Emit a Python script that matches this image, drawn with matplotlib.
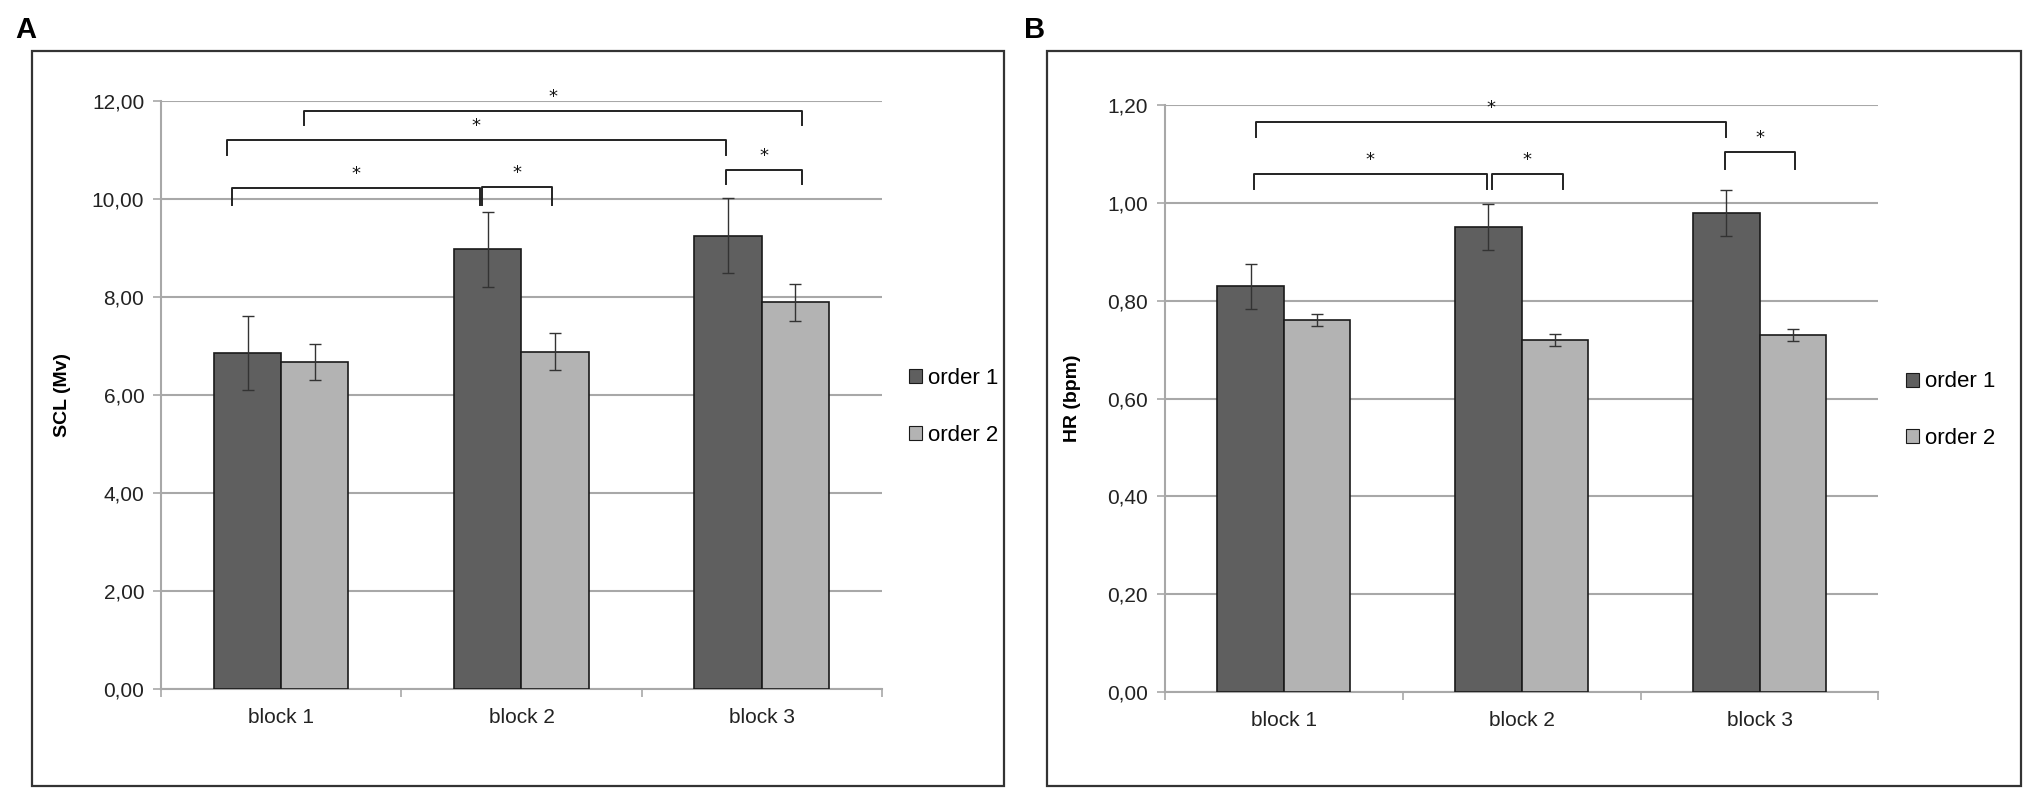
import numpy as np
import matplotlib
matplotlib.use("Agg")
from matplotlib import pyplot as plt
from matplotlib.patches import Rectangle, Patch
from matplotlib.ticker import FuncFormatter

plt.rcParams['font.family'] = ['Liberation Sans Narrow', 'Liberation Sans', 'DejaVu Sans']

blocks = ['block 1', 'block 2', 'block 3']
series = ['order 1', 'order 2']

# panel A - skin conductance level
scl_order1 = [6.86, 8.98, 9.26]
scl_order1_err = [0.75, 0.76, 0.76]
scl_order2 = [6.68, 6.89, 7.90]
scl_order2_err = [0.37, 0.38, 0.38]

# panel B - heart rate
hr_order1 = [0.83, 0.95, 0.98]
hr_order1_err = [0.046, 0.047, 0.047]
hr_order2 = [0.76, 0.72, 0.73]
hr_order2_err = [0.012, 0.012, 0.012]

# significance brackets: (x start, x end, bar height, leg bottom)
scl_brackets = [
    (0.093, 2.166, 11.81, 11.52),
    (-0.225, 1.850, 11.21, 10.91),
    (-0.206, 0.826, 10.24, 9.88),
    (0.837, 1.125, 10.26, 9.88),
    (1.850, 2.166, 10.60, 10.32),
]
hr_brackets = [
    (-0.118, 1.859, 1.165, 1.135),
    (-0.126, 0.853, 1.060, 1.029),
    (0.874, 1.172, 1.060, 1.029),
    (1.853, 2.148, 1.104, 1.070),
]

dark = '#5f5f5f'
light = '#b3b3b3'
grid_col = '#a8a8a8'


def draw_panel(ax, v1, e1, v2, e2, brackets, ymax, step, ylabel, labx):
    x = np.arange(len(blocks))
    w = 0.28
    ax.bar(x - w / 2, v1, w, color=dark, edgecolor='#1a1a1a', linewidth=1.2, zorder=3)
    ax.bar(x + w / 2, v2, w, color=light, edgecolor='#1a1a1a', linewidth=1.2, zorder=3)
    ax.errorbar(x - w / 2, v1, yerr=e1, fmt='none', ecolor='#333333', elinewidth=1,
                capsize=4, capthick=1, zorder=4)
    ax.errorbar(x + w / 2, v2, yerr=e2, fmt='none', ecolor='#333333', elinewidth=1,
                capsize=4, capthick=1, zorder=4)

    for x1, x2, yb, yl in brackets:
        ax.plot([x1, x1, x2, x2], [yl, yb, yb, yl], color='#222222', lw=1.4,
                zorder=5, clip_on=False)
        ax.text((x1 + x2) / 2, yb + (ymax * 0.008), '*', ha='center', va='bottom',
                fontsize=13, color='#111111', family='DejaVu Sans', zorder=6)

    ax.set_xlim(-0.5, 2.5)
    ax.set_ylim(0, ymax)
    ax.set_yticks(np.arange(0, ymax + step / 2, step))
    ax.yaxis.set_major_formatter(FuncFormatter(lambda v, p: ('%.2f' % v).replace('.', ',')))
    ax.yaxis.grid(True, color=grid_col, lw=1.5, zorder=0)
    ax.set_axisbelow(True)

    ax.set_xticks(x)
    ax.set_xticklabels(blocks)
    ax.set_xticks([-0.5, 0.5, 1.5, 2.5], minor=True)
    ax.tick_params(axis='x', which='major', length=0, pad=14, labelsize=15, colors='#222222')
    ax.tick_params(axis='x', which='minor', length=6, width=1.2, color=grid_col)
    ax.tick_params(axis='y', length=6, width=1.2, color=grid_col, labelsize=15,
                   labelcolor='#222222', pad=6)

    for s in ['top', 'right']:
        ax.spines[s].set_visible(False)
    for s in ['left', 'bottom']:
        ax.spines[s].set_color(grid_col)
        ax.spines[s].set_linewidth(1.5)

    ax.set_ylabel(ylabel, fontsize=14, fontweight='bold', family='Liberation Sans')
    ax.yaxis.set_label_coords(labx, 0.5)

    handles = [Patch(facecolor=dark, edgecolor='#1a1a1a', lw=0.8),
               Patch(facecolor=light, edgecolor='#1a1a1a', lw=0.8)]
    ax.legend(handles, series, loc='center left', bbox_to_anchor=(1.01, 0.48),
              frameon=False, fontsize=16, handlelength=0.6, handleheight=0.6,
              handletextpad=0.25, labelspacing=1.6)


fig = plt.figure(figsize=(20.33, 7.96), dpi=100)
ax_a = fig.add_axes([0.0792, 0.1344, 0.3546, 0.7381])
ax_b = fig.add_axes([0.5730, 0.1307, 0.3510, 0.7373])

draw_panel(ax_a, scl_order1, scl_order1_err, scl_order2, scl_order2_err,
           scl_brackets, 12, 2, 'SCL (Mv)', -0.125)
draw_panel(ax_b, hr_order1, hr_order1_err, hr_order2, hr_order2_err,
           hr_brackets, 1.2, 0.2, 'HR (bpm)', -0.118)

fig.add_artist(Rectangle((0.0157, 0.0126), 0.4782, 0.9234, transform=fig.transFigure,
                         fill=False, edgecolor='#333333', lw=1.6))
fig.add_artist(Rectangle((0.5148, 0.0126), 0.4792, 0.9234, transform=fig.transFigure,
                         fill=False, edgecolor='#333333', lw=1.6))

fig.text(0.0075, 0.962, 'A', fontsize=21, fontweight='bold', va='center',
         family='Liberation Sans')
fig.text(0.5035, 0.962, 'B', fontsize=21, fontweight='bold', va='center',
         family='Liberation Sans')

fig.savefig('out.png', dpi=100)
